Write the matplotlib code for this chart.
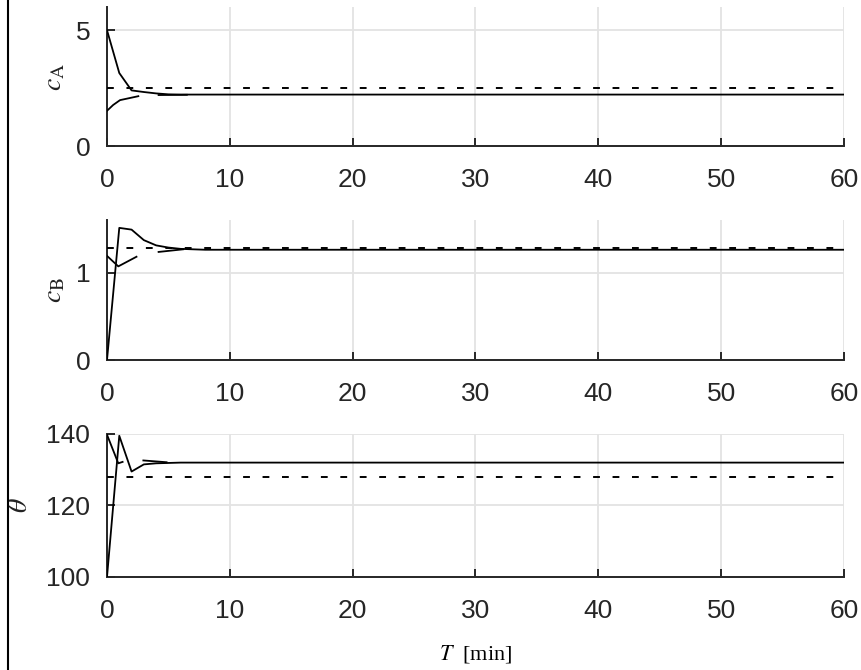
import matplotlib
matplotlib.use("Agg")
import matplotlib.pyplot as plt
from matplotlib.lines import Line2D

plt.rcParams['font.family'] = ['Liberation Sans', 'DejaVu Sans']
plt.rcParams['mathtext.fontset'] = 'stix'

# ---- data ----
t_cl = [0, 1, 2, 3, 4, 5, 6, 7, 8, 60]
cA_cl = [5.0, 3.15, 2.4, 2.33, 2.27, 2.23, 2.22, 2.22, 2.22, 2.22]
cB_cl = [0.0, 1.51, 1.49, 1.37, 1.31, 1.285, 1.27, 1.265, 1.26, 1.26]
th_t = [0, 1, 2, 3, 4, 5, 6, 60]
th_cl = [100, 139.5, 129.5, 131.5, 131.8, 131.9, 132.0, 132.0]

cA_seg1_t = [0, 0.5, 1.06, 2.55]
cA_seg1 = [1.52, 1.77, 1.98, 2.15]
cA_seg2_t = [4.2, 6.5]
cA_seg2 = [2.2, 2.21]

cB_seg1_t = [0, 0.92, 2.4]
cB_seg1 = [1.19, 1.07, 1.18]
cB_seg2_t = [4.2, 6.2]
cB_seg2 = [1.235, 1.265]

th_seg1_t = [0, 0.92, 1.27]
th_seg1 = [139.8, 131.8, 132.2]
th_seg2_t = [2.96, 4.85]
th_seg2 = [132.6, 132.1]

cA_ref = 2.5
cB_ref = 1.285
th_ref = 128.0

xticks = [0, 10, 20, 30, 40, 50, 60]
panels = [
    dict(t=t_cl, y=cA_cl, segs=[(cA_seg1_t, cA_seg1), (cA_seg2_t, cA_seg2)], ref=cA_ref,
         ylim=(0, 6), yticks=[0, 5], label=r'$c_{\mathrm{A}}$', lx=67),
    dict(t=t_cl, y=cB_cl, segs=[(cB_seg1_t, cB_seg1), (cB_seg2_t, cB_seg2)], ref=cB_ref,
         ylim=(0, 1.6), yticks=[0, 1], label=r'$c_{\mathrm{B}}$', lx=67),
    dict(t=th_t, y=th_cl, segs=[(th_seg1_t, th_seg1), (th_seg2_t, th_seg2)], ref=th_ref,
         ylim=(100, 140), yticks=[100, 120, 140], label=r'$\theta$', lx=33),
]

W, H = 862, 670
fig = plt.figure(figsize=(W / 100, H / 100), dpi=100)

boxes = [(7, 146), (220, 360), (434, 577)]
left, right = 107, 844
axes = []
for (top, bot), p in zip(boxes, panels):
    ax = fig.add_axes([left / W, 1 - bot / H, (right - left) / W, (bot - top) / H])
    ax.plot(p['t'], p['y'], color='black', lw=1.3, zorder=3)
    for st, sy in p['segs']:
        ax.plot(st, sy, color='black', lw=1.3, zorder=3)
    ax.axhline(p['ref'], color='black', lw=1.4, ls=(0, (3.5, 6.5)), zorder=3)
    ax.set_xlim(0, 60)
    ax.set_ylim(*p['ylim'])
    ax.set_xticks(xticks)
    ax.set_yticks(p['yticks'])
    ax.grid(True, color='#e3e3e3', lw=1.3, zorder=0)
    ax.set_axisbelow(True)
    for s in ['top', 'right']:
        ax.spines[s].set_visible(False)
    for s in ['left', 'bottom']:
        ax.spines[s].set_color('#262626')
        ax.spines[s].set_linewidth(1.4)
    ax.tick_params(direction='in', length=6, width=1.4, color='#262626',
                   labelsize=19, labelcolor='#262626')
    ax.tick_params(axis='x', pad=16)
    ax.tick_params(axis='y', pad=12)
    ax.set_ylabel(p['label'], fontsize=20, color='#222222')
    ax.yaxis.set_label_coords((p['lx'] - left) / (right - left), 0.5)
    axes.append(ax)

axes[-1].set_xlabel(r'$T$  [min]', fontsize=16, family='Liberation Serif')
axes[-1].xaxis.set_label_coords(0.5, (577 - 643) / (577 - 434))

fig.add_artist(Line2D([8 / W, 8 / W], [0, 1], color='black', lw=1.5, transform=fig.transFigure))

fig.savefig('out.png', dpi=100)
